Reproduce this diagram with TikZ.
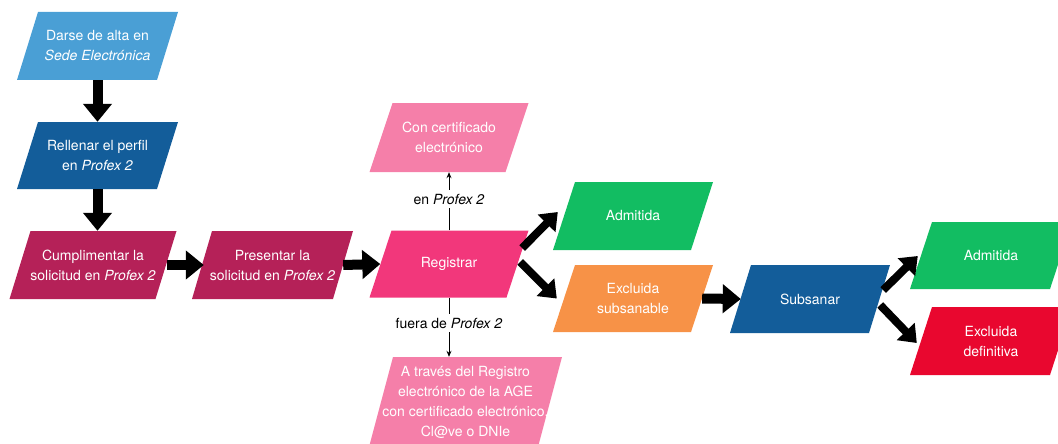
\documentclass[tikz,border=0pt]{standalone}
\usepackage{fontspec}
\setmainfont{TeX Gyre Heros}
\usetikzlibrary{arrows.meta,calc}
\definecolor{cLightBlue}{HTML}{4A9FD5}
\definecolor{cDarkBlue}{HTML}{135D9A}
\definecolor{cMaroon}{HTML}{B52158}
\definecolor{cPink}{HTML}{F2377B}
\definecolor{cLightPink}{HTML}{F57FA9}
\definecolor{cGreen}{HTML}{12BD62}
\definecolor{cOrange}{HTML}{F79247}
\definecolor{cRed}{HTML}{E9072F}
\begin{document}
\begin{tikzpicture}[x=1pt,y=-1pt,
  pbox/.style n args={4}{
    minimum width=#2, minimum height=#3, inner sep=0pt, align=center, text=white,
    font=\fontsize{14}{20}\selectfont,
    path picture={\fill[#1] ([xshift=#4]path picture bounding box.north west)
      -- (path picture bounding box.north east)
      -- ([xshift=-#4]path picture bounding box.south east)
      -- (path picture bounding box.south west) -- cycle;}},
  bigarrow/.style={line width=10pt, -{Triangle[length=18pt,width=28pt]}},
  diagarrow/.style={line width=8pt, -{Triangle[length=16pt,width=24pt]}},
  thinline/.style={line width=0.9pt},
  thinarrow/.style={line width=0.9pt, -{Stealth[length=6pt,width=5pt]}},
  lbl/.style={font=\fontsize{14}{16}\selectfont, text=black, inner sep=4pt}
]
\useasboundingbox (0,0) rectangle (1058,444);

\node[pbox={cLightBlue}{161pt}{68pt}{21pt}] (b1) at (97.5,46) {Darse de alta en\\\textit{Sede Electrónica}};
\node[pbox={cDarkBlue}{161pt}{67pt}{21pt}] (b2) at (97.5,155.5) {Rellenar el perfil\\en \textit{Profex 2}};
\node[pbox={cMaroon}{167pt}{68pt}{21pt}] (b3) at (93,265) {Cumplimentar la\\solicitud en \textit{Profex 2}};
\node[pbox={cMaroon}{161pt}{68pt}{20pt}] (b4) at (272.5,265) {Presentar la\\solicitud en \textit{Profex 2}};
\node[pbox={cLightPink}{159pt}{69pt}{23pt}] (cert) at (449,137.5) {Con certificado\\electrónico};
\node[pbox={cPink}{159pt}{67pt}{22pt}] (reg) at (449,264) {Registrar};
\node[pbox={cLightPink}{193pt}{90pt}{24pt}] (atr) at (465.5,402) {A través del Registro\\electrónico de la AGE\\con certificado electrónico,\\Cl@ve o DNIe};
\node[pbox={cGreen}{160pt}{68pt}{22pt}] (adm1) at (633,216) {Admitida};
\node[pbox={cOrange}{160pt}{67pt}{22pt}] (exc1) at (633,298.5) {Excluida\\subsanable};
\node[pbox={cDarkBlue}{160pt}{68pt}{21pt}] (sub) at (810,299) {Subsanar};
\node[pbox={cGreen}{162pt}{67pt}{22pt}] (adm2) at (991,255.5) {Admitida};
\node[pbox={cRed}{162pt}{68pt}{22pt}] (exc2) at (991,341) {Excluida\\definitiva};

\node[lbl] (l1) at (449,199) {en \textit{Profex 2}};
\node[lbl] (l2) at (449,323) {fuera de \textit{Profex 2}};

\draw[bigarrow] (b1.south) -- (b2.north);
\draw[bigarrow] (b2.south) -- (b2.south |- b3.north);
\draw[bigarrow] ([xshift=-10pt]b3.east) -- ([xshift=12pt]b4.west);
\draw[bigarrow] ([xshift=-10pt]b4.east) -- ([xshift=11pt]reg.west);
\draw[bigarrow] ([xshift=-11pt]exc1.east) -- ([xshift=11pt]sub.west);

\draw[diagarrow] ($(reg.east)+(-6.5,-16)$) -- ($(adm1.west)+(5,-4)$);
\draw[diagarrow] ($(reg.east)+(-8.5,-2)$) -- ($(exc1.west)+(4,0)$);
\draw[diagarrow] ($(sub.east)+(-7,-9)$) -- ($(adm2.west)+(8,0.5)$);
\draw[diagarrow] ($(sub.east)+(-10,6)$) -- ($(exc2.west)+(7,2)$);

\draw[thinline] (reg.north) -- (l1.south);
\draw[thinarrow] (l1.north) -- (cert.south);
\draw[thinline] (reg.south) -- (l2.north);
\draw[thinarrow] (l2.south) -- (l2.south |- atr.north);
\end{tikzpicture}
\end{document}
